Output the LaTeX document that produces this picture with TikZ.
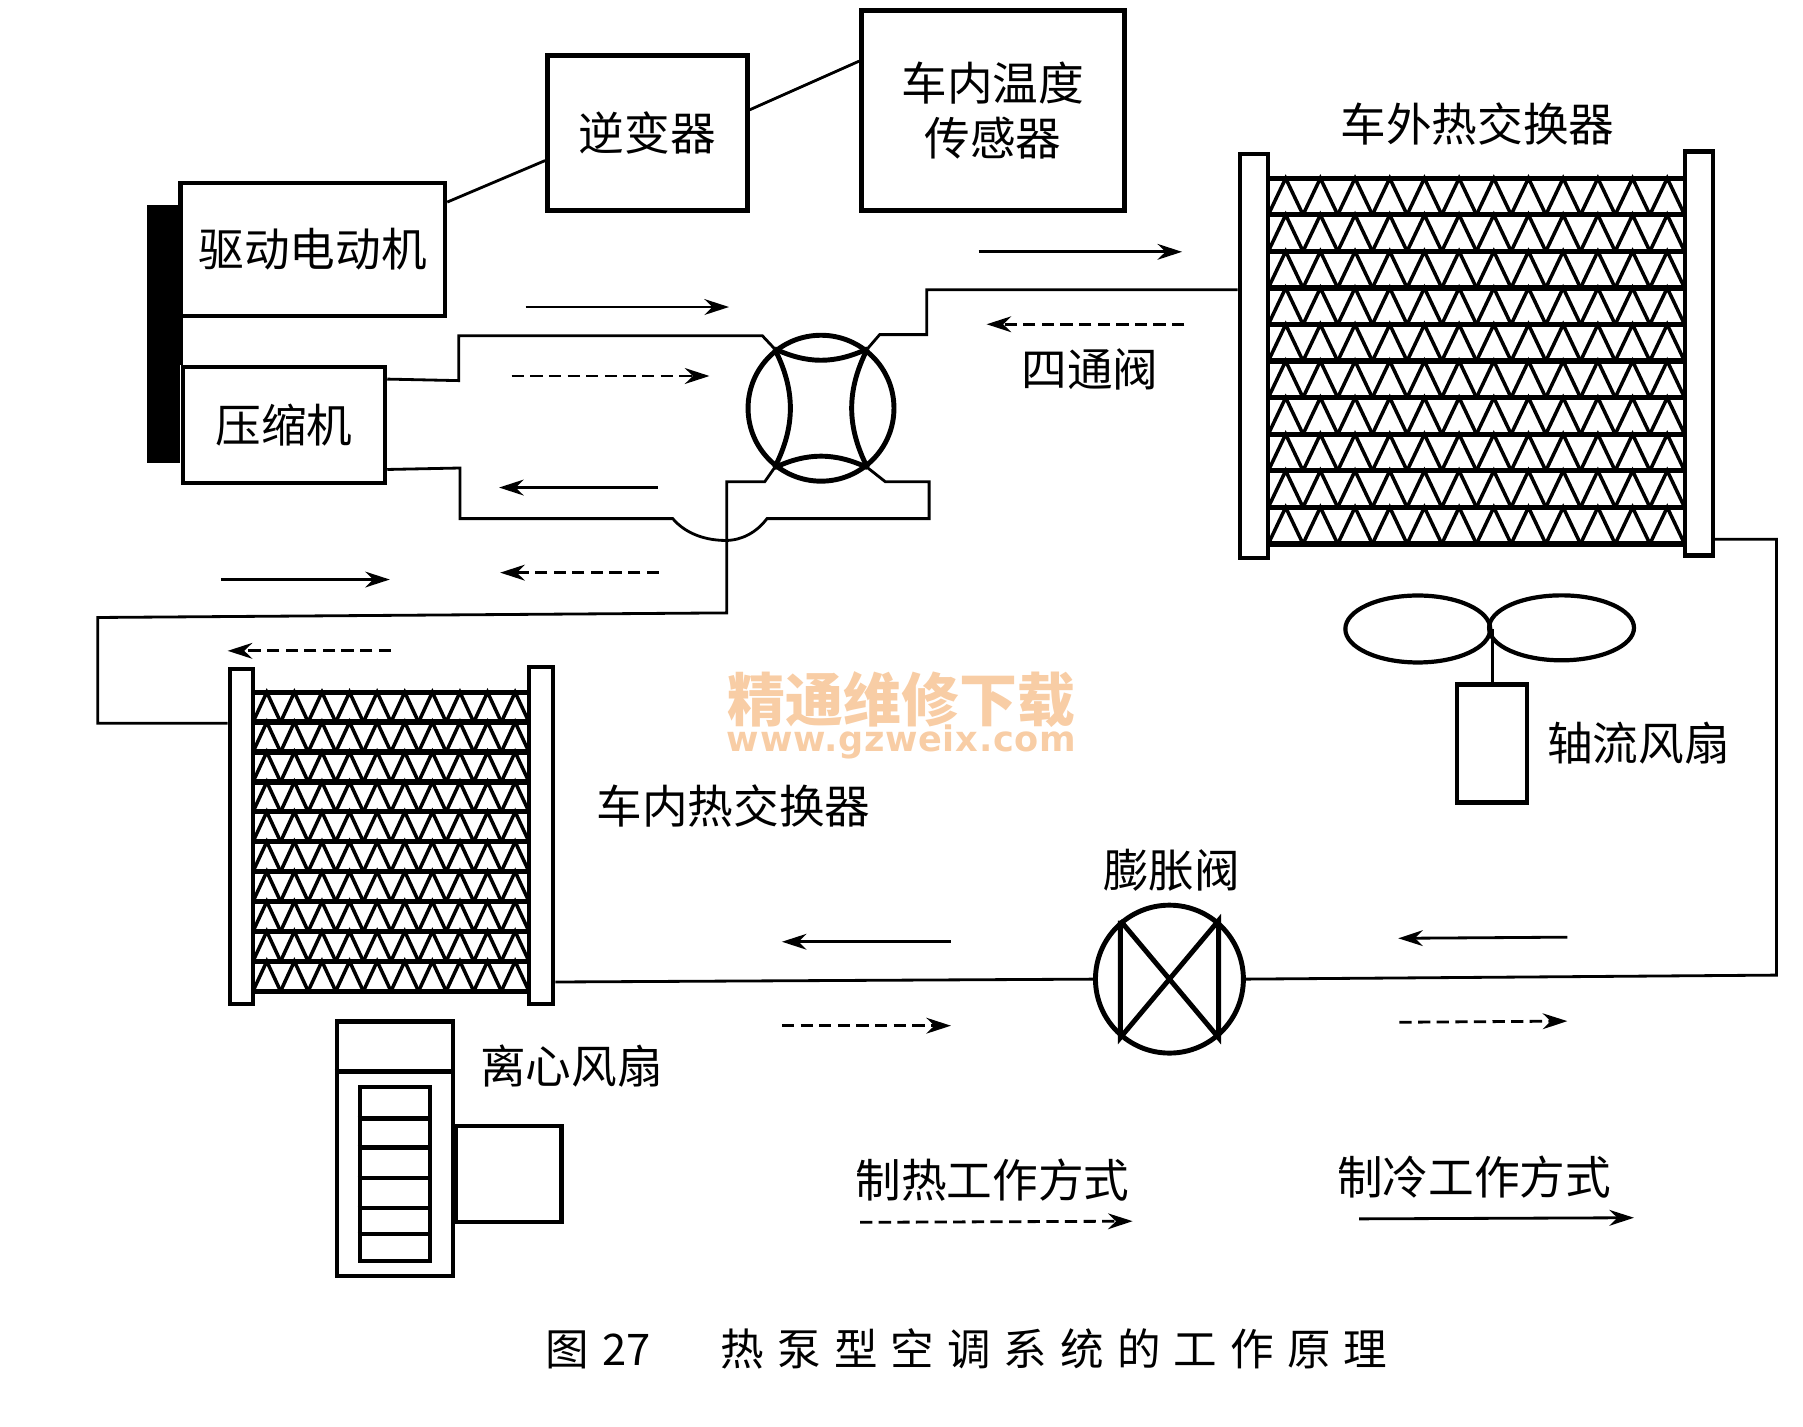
\documentclass[tikz,border=0pt]{standalone}
\usepackage{fontspec}
\usepackage{xcolor}
\usetikzlibrary{arrows.meta, calc, shapes.geometric}
\setmainfont{Noto Sans CJK SC}
\newfontfamily\capfont[LetterSpace=30]{Noto Sans CJK SC}
\newfontfamily\urlfont[LetterSpace=2]{DejaVu Sans}
\definecolor{markOrange}{RGB}{248, 205, 165}

% one heat exchanger core: x0, x1, y0, y1, rows, fin periods
\newcommand{\hexcore}[6]{
    \pgfmathsetmacro{\finx}{(#2-#1)/#6/2}
    \pgfmathsetmacro{\finy}{(#4-#3)/#5}
    \draw[rib] (#1,#3) -- (#2,#3);
    \foreach \r in {1,...,#5}{
        \draw[rib] (#1,{#3+\r*\finy}) -- (#2,{#3+\r*\finy});
        \foreach \c in {1,...,#6}{
            \draw[fin] ({#1+(2*\c-2)*\finx},{#3+\r*\finy}) -- ++(\finx,-\finy) -- ++(\finx,\finy);
        }
    }
}

\begin{document}
\begin{tikzpicture}[
    x=0.0115cm,
    y=-0.0115cm,
    box/.style={
        rectangle,
        draw=black,
        line width=1.3pt,
        inner sep=0pt,
        align=center,
        font=\fontsize{13}{15.8}\selectfont
    },
    hexbar/.style={
        rectangle,
        draw=black,
        fill=white,
        line width=1.3pt,
        inner sep=0pt,
        minimum width=0.28cm
    },
    label/.style={
        font=\fontsize{13}{15.8}\selectfont,
        inner sep=0pt
    },
    ring/.style={
        circle,
        draw=black,
        line width=1.4pt,
        inner sep=0pt,
        minimum size=1.46cm
    },
    pipe/.style={line width=0.8pt, line join=miter},
    rib/.style={line width=1.5pt},
    fin/.style={line width=1pt},
    cool/.style={line width=0.8pt, -{Stealth[length=7pt, width=4.5pt]}},
    heat/.style={cool, dash pattern=on 3.5pt off 1.8pt}
]
\useasboundingbox (0,0) rectangle (1568,1241);

% Control side
\node[box, minimum width=2cm, minimum height=1.55cm] (inverter) at (563,115.5) {逆变器};
\node[box, minimum width=2.63cm, minimum height=2cm] (sensor) at (863.5,96) {车内温度\\传感器};
\node[box, minimum width=2.645cm, minimum height=1.33cm] (motor) at (272,217) {驱动电动机};
\node[box, minimum width=2.02cm, minimum height=1.16cm] (compressor) at (247,369.5) {压缩机};
\node[rectangle, fill=black, inner sep=0pt, minimum width=0.33cm, minimum height=2.59cm] (shaft) at (142.5,290.5) {};

\draw[pipe] ($(motor.north east)!0.155!(motor.south east)$) -- ($(inverter.north west)!0.674!(inverter.south west)$);
\draw[pipe] ($(inverter.north east)!0.356!(inverter.south east)$) -- ($(sensor.north west)!0.259!(sensor.south west)$);
\draw[line width=1.3pt] (compressor.north west |- motor.south) -- (compressor.north west);

% Four-way valve
\node[ring] (fourway) at (714,355) {};
\draw[line width=1.4pt] (fourway.128) to[bend right=25] (fourway.52);
\draw[line width=1.4pt] (fourway.232) to[bend left=25] (fourway.308);
\draw[line width=1.4pt] (fourway.128) to[bend left=27] (fourway.232);
\draw[line width=1.4pt] (fourway.52) to[bend right=27] (fourway.308);
\node[label] (fourwaytext) at (948,321) {四通阀};

% Outdoor heat exchanger
\hexcore{1103}{1465}{155}{473}{10}{12}
\node[hexbar, minimum height=4.04cm] (outbarL) at (1090.5,309.5) {};
\node[hexbar, minimum height=4.04cm] (outbarR) at (1477.5,307.5) {};
\node[label] (outtext) at (1285,108) {车外热交换器};

% Indoor heat exchanger
\hexcore{220}{460}{602}{862}{10}{10}
\node[hexbar, minimum width=0.23cm, minimum height=3.35cm] (inbarL) at (210,727.5) {};
\node[hexbar, minimum width=0.24cm, minimum height=3.37cm] (inbarR) at (470.5,726.5) {};
\node[label] (intext) at (638,701) {车内热交换器};

% Expansion valve
\node[ring, minimum size=1.48cm] (expvalve) at (1017,851.5) {};
\draw[line width=1.4pt] (expvalve.130) -- (expvalve.230) -- (expvalve.50) -- (expvalve.310) -- (expvalve.130);
\node[label] (exptext) at (1019,757) {膨胀阀};

% Pipes
\coordinate (joinO) at (806,252);
\coordinate (joinR) at (1545,469);
\coordinate (joinI) at (85,629);
\draw[pipe] ($(compressor.north east)!0.12!(compressor.south east)$) -- (399,331) -- (399,292) -- (663,292) -- (fourway.128);
\draw[pipe] ($(compressor.north east)!0.87!(compressor.south east)$) -- (400,407) -- (400,451) -- (585,451)
    .. controls (597,465) and (615,470) .. (631,470) .. controls (645,470) and (658,463) .. (667,451)
    -- (808,451) -- (808,419) -- (770,419) -- (fourway.308);
\draw[pipe] (fourway.52) -- (765,291) -- (806,291) -- (joinO) -- (joinO -| outbarL.west);
\draw[pipe] (fourway.232) -- (665,419) -- (632,419) -- (632,533) -- (85,537) -- (joinI) -- (joinI -| inbarL.west);
\draw[pipe] (joinR -| outbarR.east) -- (joinR) -- (1545,848) -- (expvalve.east);
\draw[pipe] (expvalve.west) -- (inbarR.east |- 0,854);

% Axial fan
\node[ellipse, draw=black, line width=1.2pt, inner sep=0pt, minimum width=1.45cm, minimum height=0.67cm] (bladeL) at (1233,547) {};
\node[ellipse, draw=black, line width=1.2pt, inner sep=0pt, minimum width=1.45cm, minimum height=0.65cm] (bladeR) at (1358,546) {};
\node[box, minimum width=0.7cm, minimum height=1.18cm] (fanmotor) at (1297.5,646.5) {};
\draw[pipe] (bladeL.east) -- (bladeL.east |- fanmotor.north);
\node[label] (axialtext) at (1425,646) {轴流风扇};

% Centrifugal fan
\node[box, minimum width=1.16cm, minimum height=2.55cm] (housing) at (343.5,999) {};
\draw[line width=1.3pt] (housing.west |- 0,932) -- (housing.east |- 0,932);
\node[box, minimum width=0.7cm, minimum height=1.74cm] (wheel) at (343.5,1021) {};
\foreach \yy in {972.5,998,1024.6,1050.7,1073.3}{
    \draw[line width=1.3pt] (wheel.west |- 0,\yy) -- (wheel.east |- 0,\yy);
}
\node[box, anchor=west, minimum width=1.06cm, minimum height=0.96cm] (blower) at (394,1021) {};
\node[label] (radialtext) at (497,927) {离心风扇};

% Flow arrows
\foreach \nm/\xa/\ya/\xb/\yb in {a/851/219/1028/219, b/457/267/634/267, c/572/424/434/424, d/192/504/339/504, e/1363/815/1216/816, f/827/819/680/819, g/1182/1060/1421/1059}{
    \coordinate (\nm0) at (\xa,\ya);
    \coordinate (\nm1) at (\xb,\yb);
    \draw[cool] (\nm0) -- (\nm1);
}
\foreach \nm/\xa/\ya/\xb/\yb in {h/1030/282/858/282, i/445/327/617/327, j/573/498/435/498, k/340/566/198/566, l/680/892/827/892, m/1217/889/1363/888, n/748/1063/985/1062}{
    \coordinate (\nm0) at (\xa,\ya);
    \coordinate (\nm1) at (\xb,\yb);
    \draw[heat] (\nm0) -- (\nm1);
}

% Legend
\node[label] (heattext) at (863,1026) {制热工作方式};
\node[label] (cooltext) at (1282,1024) {制冷工作方式};

% Caption
\node[font=\fontsize{12.4}{15}\selectfont\capfont, anchor=west, inner sep=0pt] (caption) at (474,1173) {图\hspace{0.3em}2\kern0pt 7\hspace{1.61em}热泵型空调系统的工作原理};

% Watermark
\node[font=\fontsize{16.5}{20}\selectfont\bfseries, text=markOrange, inner sep=0pt] (markcn) at (784,608) {精通维修下载};
\node[font=\fontsize{10}{12}\selectfont\urlfont\bfseries, text=markOrange, inner sep=0pt] (markurl) at (784,645) {www.gzweix.com};

\end{tikzpicture}
\end{document}
